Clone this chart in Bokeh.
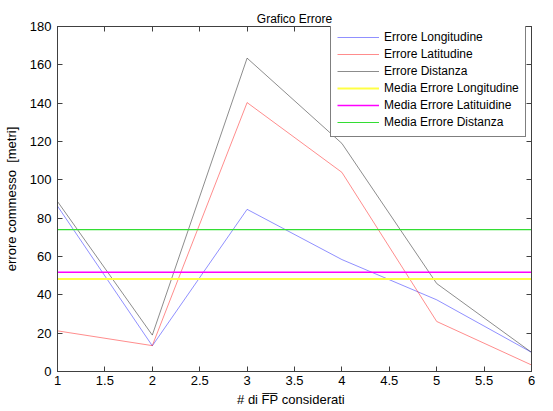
import math
from bokeh.plotting import figure
from bokeh.models import (Legend, LegendItem, LinearAxis, FixedTicker, Range1d)
from bokeh.embed import file_html
from bokeh.resources import INLINE

# ---- data ----
n_fp = [1, 2, 3, 4, 5, 6]
errore_longitudine = [86.3, 13.4, 84.6, 58.4, 37.4, 10.0]
errore_latitudine = [21.2, 13.5, 140.3, 103.9, 26.1, 3.4]
errore_distanza = [88.7, 19.0, 163.5, 119.0, 45.9, 10.0]
media_longitudine = 48.2
media_latitudine = 51.8
media_distanza = 74.0

x_ticks = [1, 1.5, 2, 2.5, 3, 3.5, 4, 4.5, 5, 5.5, 6]
x_tick_labels = ["1", "1.5", "2", "2.5", "3", "3.5", "4", "4.5", "5", "5.5", "6"]
y_ticks = [0, 20, 40, 60, 80, 100, 120, 140, 160, 180]

title_text = "Grafico Errore"
y_label_text = "errore commesso\u00a0\u00a0[metri]"
x_label_text = "# di  F\u0305P\u0305  considerati"
series_names = ["Errore Longitudine", "Errore Latitudine", "Errore Distanza",
                "Media Errore Longitudine", "Media Errore Latituidine", "Media Errore Distanza"]

FONT = "Liberation Sans"
AX = "#404040"

p = figure(width=553, height=411, output_backend="svg", toolbar_location=None,
           x_range=Range1d(1, 6), y_range=Range1d(0, 180),
           min_border_left=57, min_border_right=22, min_border_top=26, min_border_bottom=40)
p.xgrid.visible = False
p.ygrid.visible = False
p.outline_line_color = AX
p.outline_line_width = 1
p.background_fill_color = "white"
p.border_fill_color = "white"

p.title.text = title_text
p.title.align = "center"
p.title.text_font = FONT
p.title.text_font_size = "12px"
p.title.text_font_style = "normal"
p.title.text_color = "black"
p.title.offset = -4
p.title.standoff = 2

def style_axis(ax, ticks, show_labels=True):
    ax.ticker = FixedTicker(ticks=ticks)
    ax.axis_line_color = AX
    ax.major_tick_line_color = AX
    ax.major_tick_in = 5
    ax.major_tick_out = 0
    ax.minor_tick_line_color = None
    ax.major_label_text_font = FONT
    ax.major_label_text_color = "black"
    ax.major_label_text_font_size = "13px"
    if not show_labels:
        ax.major_label_overrides = {float(t): "" for t in ticks}
        ax.major_label_standoff = 0

style_axis(p.xaxis[0], x_ticks)
p.xaxis[0].major_label_overrides = {float(t): s for t, s in zip(x_ticks, x_tick_labels)}
p.xaxis[0].major_label_standoff = 4
p.xaxis[0].axis_label = x_label_text
p.xaxis[0].axis_label_text_font = FONT
p.xaxis[0].axis_label_text_font_size = "13px"
p.xaxis[0].axis_label_text_font_style = "normal"
p.xaxis[0].axis_label_text_color = "black"
p.xaxis[0].axis_label_standoff = 4

style_axis(p.yaxis[0], y_ticks)
p.yaxis[0].major_label_standoff = 6
p.yaxis[0].axis_label = y_label_text
p.yaxis[0].axis_label_text_font = FONT
p.yaxis[0].axis_label_text_font_size = "13px"
p.yaxis[0].axis_label_text_font_style = "normal"
p.yaxis[0].axis_label_text_color = "black"
p.yaxis[0].axis_label_standoff = 8

top_ax = LinearAxis()
style_axis(top_ax, x_ticks, show_labels=False)
top_ax.major_label_standoff = 6
p.add_layout(top_ax, "above")
right_ax = LinearAxis()
style_axis(right_ax, y_ticks, show_labels=False)
p.add_layout(right_ax, "right")

r1 = p.line(n_fp, errore_longitudine, line_color="#2222ff", line_alpha=0.5, line_width=1)
r2 = p.line(n_fp, errore_latitudine, line_color="red", line_alpha=0.45, line_width=1)
r3 = p.line(n_fp, errore_distanza, line_color="black", line_alpha=0.45, line_width=1)
r4 = p.line([n_fp[0], n_fp[-1]], [media_longitudine, media_longitudine], line_color="#ffff44", line_width=2)
r5 = p.line([n_fp[0], n_fp[-1]], [media_latitudine, media_latitudine], line_color="#ff00ff", line_width=1.5)
r6 = p.line([n_fp[0], n_fp[-1]], [media_distanza, media_distanza], line_color="#33dd33", line_width=1.2)

legend = Legend(items=[LegendItem(label=nm, renderers=[r]) for nm, r in
                       zip(series_names, [r1, r2, r3, r4, r5, r6])],
                location=(273, 234), level="overlay")
legend.label_text_font = FONT
legend.label_text_font_size = "12px"
legend.label_text_color = "black"
legend.glyph_width = 42
legend.glyph_height = 16
legend.label_height = 16
legend.spacing = 1
legend.padding = 6
legend.margin = 0
legend.label_standoff = 5
legend.border_line_color = "black"
legend.border_line_width = 1
legend.background_fill_color = "white"
legend.background_fill_alpha = 1
p.add_layout(legend, "center")

open("out.html", "w").write(file_html(p, INLINE))
